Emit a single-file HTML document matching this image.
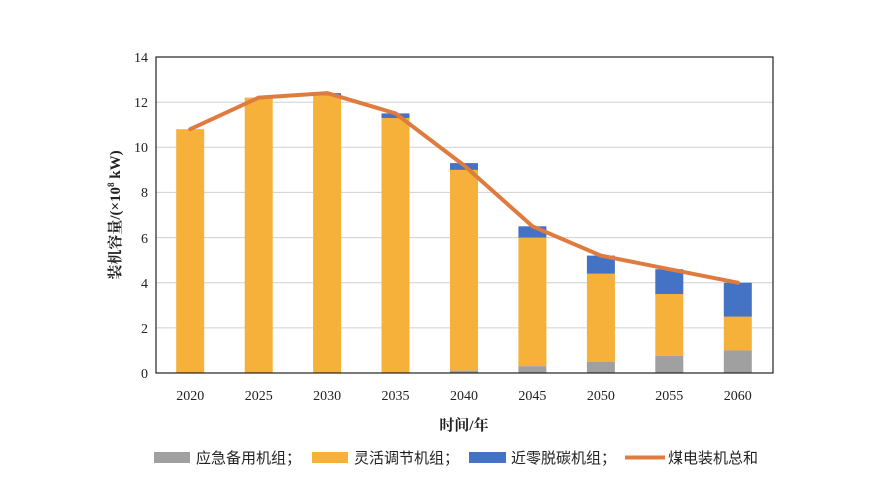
<!DOCTYPE html>
<html><head><meta charset="utf-8"><style>
html,body{margin:0;padding:0;background:#fff;}
svg{display:block;font-family:"Liberation Serif","Noto Serif CJK SC",serif;}
</style></head><body>
<svg width="879" height="501" viewBox="0 0 879 501" xmlns="http://www.w3.org/2000/svg">
<rect width="879" height="501" fill="#fff"/>
<g stroke="#d0d0d0" stroke-width="1">
<line x1="156" x2="773" y1="327.9" y2="327.9"/>
<line x1="156" x2="773" y1="282.7" y2="282.7"/>
<line x1="156" x2="773" y1="237.6" y2="237.6"/>
<line x1="156" x2="773" y1="192.4" y2="192.4"/>
<line x1="156" x2="773" y1="147.3" y2="147.3"/>
<line x1="156" x2="773" y1="102.2" y2="102.2"/>
</g>
<g fill="#f5b13a">
<rect x="176.2" y="129.2" width="28" height="243.8"/>
<rect x="244.7" y="97.6" width="28" height="275.4"/>
<rect x="313.1" y="95.4" width="28" height="277.6"/>
<rect x="381.5" y="118" width="28" height="255"/>
<rect x="450" y="169.9" width="28" height="200.8"/>
<rect x="518.4" y="237.6" width="28" height="128.6"/>
<rect x="586.9" y="273.7" width="28" height="88"/>
<rect x="655.3" y="294" width="28" height="61.9"/>
<rect x="723.8" y="316.6" width="28" height="33.8"/>
</g>
<g fill="#4472c4">
<rect x="313.1" y="93.1" width="28" height="2.3"/>
<rect x="381.5" y="113.4" width="28" height="4.6"/>
<rect x="450" y="163.1" width="28" height="6.8"/>
<rect x="518.4" y="226.3" width="28" height="11.3"/>
<rect x="586.9" y="255.6" width="28" height="18.1"/>
<rect x="655.3" y="269.2" width="28" height="24.8"/>
<rect x="723.8" y="282.7" width="28" height="33.9"/>
</g>
<g fill="#a0a0a0">
<rect x="450" y="370.7" width="28" height="2.3"/>
<rect x="518.4" y="366.2" width="28" height="6.8"/>
<rect x="586.9" y="361.7" width="28" height="11.3"/>
<rect x="655.3" y="355.9" width="28" height="17.1"/>
<rect x="723.8" y="350.4" width="28" height="22.6"/>
</g>
<polyline fill="none" stroke="#e07b3f" stroke-width="4" stroke-linejoin="round" stroke-linecap="round"
points="190.2,129.2 258.7,97.6 327.1,93.1 395.5,113.4 464,165.4 532.4,226.3 600.9,255.6 669.3,269.2 737.8,282.7"/>
<rect x="156" y="57" width="617" height="316" fill="none" stroke="#222" stroke-width="1.2"/>
<g font-size="14" fill="#222" text-anchor="end">
<text x="148" y="378">0</text>
<text x="148" y="333">2</text>
<text x="148" y="288">4</text>
<text x="148" y="243">6</text>
<text x="148" y="197">8</text>
<text x="148" y="152">10</text>
<text x="148" y="107">12</text>
<text x="148" y="62">14</text>
</g>
<g font-size="14" fill="#222" text-anchor="middle">
<text x="190.2" y="400">2020</text>
<text x="258.7" y="400">2025</text>
<text x="327.1" y="400">2030</text>
<text x="395.5" y="400">2035</text>
<text x="464" y="400">2040</text>
<text x="532.4" y="400">2045</text>
<text x="600.9" y="400">2050</text>
<text x="669.3" y="400">2055</text>
<text x="737.8" y="400">2060</text>
<text x="464" y="430" font-size="15" font-weight="bold">时间/年</text>
</g>
<text transform="translate(120,215) rotate(-90)" text-anchor="middle" font-size="15" fill="#222" font-weight="bold">装机容量/(×10<tspan font-size="9" dy="-6">8</tspan><tspan dy="6"> kW)</tspan></text>
<g font-size="15" fill="#222" font-family="'Liberation Sans','Noto Sans CJK SC',sans-serif">
<rect x="154" y="452" width="36" height="11" fill="#a0a0a0"/>
<text x="196" y="463">应急备用机组；</text>
<rect x="312" y="452" width="36" height="11" fill="#f5b13a"/>
<text x="354" y="463">灵活调节机组；</text>
<rect x="469" y="452" width="37" height="11" fill="#4472c4"/>
<text x="511" y="463">近零脱碳机组；</text>
<line x1="625" x2="665" y1="457.5" y2="457.5" stroke="#e07b3f" stroke-width="4"/>
<text x="668" y="463">煤电装机总和</text>
</g>
</svg>
</body></html>
